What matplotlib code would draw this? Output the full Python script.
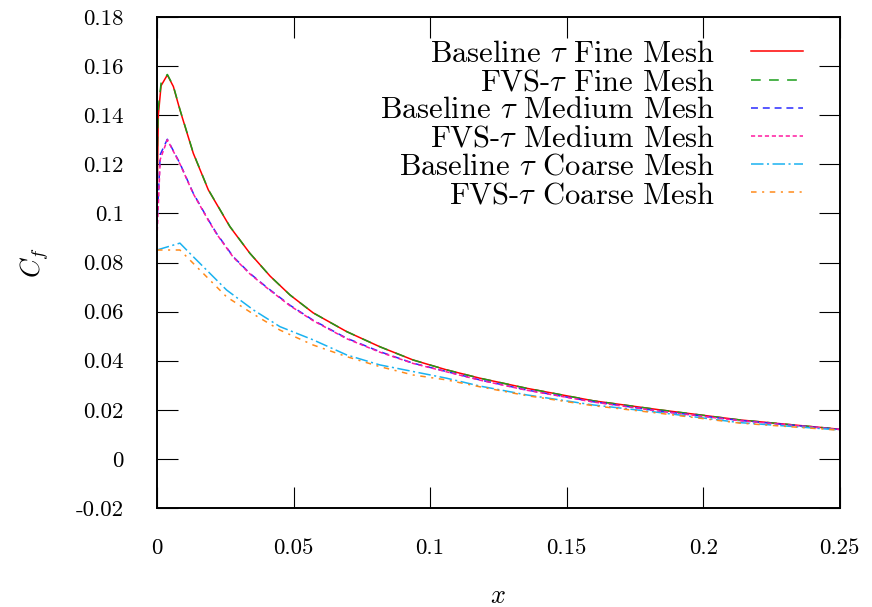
import numpy as np
import matplotlib
matplotlib.use("Agg")
import matplotlib.pyplot as plt

plt.rcParams['font.family'] = 'serif'
plt.rcParams['font.serif'] = ['cmr10', 'DejaVu Serif']
plt.rcParams['mathtext.fontset'] = 'cm'
plt.rcParams['axes.unicode_minus'] = False
plt.rcParams['lines.scale_dashes'] = False

# skin friction along the plate
x_fine = [0, 0.0005, 0.0015, 0.0038, 0.006, 0.0084, 0.0133, 0.0188, 0.0267, 0.034,
          0.0414, 0.0487, 0.0572, 0.0694, 0.0816, 0.0938, 0.106, 0.1182, 0.1353,
          0.1597, 0.1841, 0.2134, 0.25]
cf_base_fine = [0.100, 0.140, 0.152, 0.1564, 0.1517, 0.1422, 0.1245, 0.1096, 0.0946,
                0.0838, 0.0745, 0.0668, 0.0595, 0.0519, 0.0457, 0.0403, 0.0363, 0.0329,
                0.0288, 0.0237, 0.0200, 0.0159, 0.0121]
cf_fvs_fine = [0.120, 0.143, 0.153, 0.1566, 0.1519, 0.1424, 0.1246, 0.1097, 0.0947,
               0.0838, 0.0745, 0.0668, 0.0595, 0.0519, 0.0457, 0.0403, 0.0363, 0.0329,
               0.0288, 0.0237, 0.0200, 0.0159, 0.0121]

x_med = [0, 0.0012, 0.0038, 0.0084, 0.0133, 0.0188, 0.0218, 0.0279, 0.034, 0.0401,
         0.0487, 0.0572, 0.0694, 0.0816, 0.0938, 0.106, 0.1182, 0.1353, 0.1597,
         0.1841, 0.2134, 0.25]
cf_base_med = [0.095, 0.1240, 0.1302, 0.1204, 0.1082, 0.0974, 0.0919, 0.0824, 0.0756,
               0.0700, 0.0626, 0.0565, 0.0492, 0.0437, 0.0390, 0.0356, 0.0322, 0.0281,
               0.0233, 0.0195, 0.0157, 0.0120]
cf_fvs_med = [0.090, 0.1220, 0.1300, 0.1202, 0.1080, 0.0972, 0.0917, 0.0822, 0.0754,
              0.0698, 0.0624, 0.0563, 0.0490, 0.0435, 0.0389, 0.0355, 0.0321, 0.0280,
              0.0232, 0.0194, 0.0156, 0.0120]

x_coarse = [0, 0.0084, 0.012, 0.0255, 0.0353, 0.045, 0.0572, 0.0694, 0.0816, 0.0938,
            0.106, 0.1182, 0.1353, 0.1597, 0.1841, 0.2134, 0.25]
cf_base_coarse = [0.0851, 0.0879, 0.0838, 0.0688, 0.0607, 0.0539, 0.0485, 0.0424,
                  0.0383, 0.0356, 0.0329, 0.0297, 0.0261, 0.0220, 0.0189, 0.0148, 0.0118]
cf_fvs_coarse = [0.0851, 0.0851, 0.0811, 0.0660, 0.0590, 0.0525, 0.0464, 0.0417,
                 0.0376, 0.0342, 0.0322, 0.0294, 0.0258, 0.0217, 0.0186, 0.0146, 0.0117]

labels = [r"Baseline $\tau$ Fine Mesh", r"FVS-$\tau$ Fine Mesh",
          r"Baseline $\tau$ Medium Mesh", r"FVS-$\tau$ Medium Mesh",
          r"Baseline $\tau$ Coarse Mesh", r"FVS-$\tau$ Coarse Mesh"]
xticks = [0, 0.05, 0.1, 0.15, 0.2, 0.25]
xticklabels = ["0", "0.05", "0.1", "0.15", "0.2", "0.25"]
yticks = [-0.02, 0, 0.02, 0.04, 0.06, 0.08, 0.1, 0.12, 0.14, 0.16, 0.18]
yticklabels = ["-0.02", "0", "0.02", "0.04", "0.06", "0.08", "0.1", "0.12",
               "0.14", "0.16", "0.18"]

fig = plt.figure(figsize=(8.72, 6.07), dpi=100)
ax = fig.add_axes([0.180, 0.163, 0.783, 0.809])

lw = 1.1
ax.plot(x_fine, cf_base_fine, color='#ff0000', lw=lw, label=labels[0])
ax.plot(x_fine, cf_fvs_fine, color='#1a9e1a', lw=lw, dashes=(7, 6), label=labels[1])
ax.plot(x_med, cf_base_med, color='#2a2aff', lw=lw, dashes=(5, 3.5), label=labels[2])
ax.plot(x_med, cf_fvs_med, color='#ff1aa0', lw=lw, dashes=(3, 2), label=labels[3])
ax.plot(x_coarse, cf_base_coarse, color='#1ab2f0', lw=lw, dashes=(9, 2.5, 1.5, 2.5), label=labels[4])
ax.plot(x_coarse, cf_fvs_coarse, color='#ff8a1a', lw=lw, dashes=(4, 4, 1.5, 4), label=labels[5])

ax.set_xlim(0, 0.25)
ax.set_ylim(-0.02, 0.18)
ax.set_xticks(xticks)
ax.set_xticklabels(xticklabels)
ax.set_yticks(yticks)
ax.set_yticklabels(yticklabels)
ax.tick_params(direction='in', length=15, width=0.8, top=True, right=True, labelsize=16.5)
ax.tick_params(axis='x', pad=22)
ax.tick_params(axis='y', pad=24)
for s in ax.spines.values():
    s.set_linewidth(1.4)

ax.set_xlabel(r"$x$", fontsize=19, va='center')
ax.set_ylabel(r"$C_f$", fontsize=19, va='center')
ax.xaxis.set_label_coords(0.5, -0.18)
ax.yaxis.set_label_coords(-0.179, 0.5)

leg = ax.legend(loc='upper right', bbox_to_anchor=(0.946, 0.952), frameon=False,
                markerfirst=False, fontsize=22, handlelength=1.7, handletextpad=1.18,
                labelspacing=0.025, borderaxespad=0, borderpad=0)

fig.savefig("out.png", dpi=100)
